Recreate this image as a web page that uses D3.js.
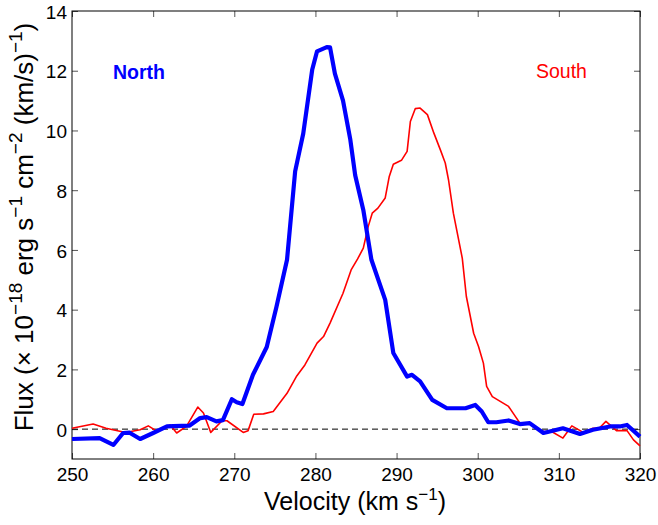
<!DOCTYPE html>
<html>
<head>
<meta charset="utf-8">
<style>
  body { margin: 0; background: #fff; }
  svg text { font-family: "Liberation Sans", Arial, sans-serif; fill: #000; }
</style>
</head>
<body>
<svg id="chart" width="658" height="525"></svg>
<script src="https://d3js.org/d3.v7.min.js"></script>
<script>
// North (thick blue) : velocity / flux
var northV = [250, 253.4, 255.1, 256.3, 257.1, 258.4, 260, 261.7, 262.5, 264.5, 265.8, 266.6, 267.8, 268.6,
  269.7, 270.3, 271, 272.3, 274, 275.2, 276.5, 277.5, 278.5, 279.6, 280.2, 281.4, 281.8, 282.4, 283.4,
  284.3, 284.9, 285.9, 286.9, 288.6, 289.6, 291.3, 291.9, 292.9, 294.4, 296.2, 298.5, 299.7, 300.5,
  301.3, 302.3, 303.8, 305.2, 306.4, 308.1, 310.5, 312.6, 314.2, 316.3, 317.5, 318.4, 320];
var northF = [-0.33, -0.3, -0.53, -0.13, -0.12, -0.33, -0.13, 0.09, 0.1, 0.12, 0.37, 0.4, 0.26, 0.3,
  1.0, 0.9, 0.84, 1.82, 2.75, 4.1, 5.67, 8.63, 9.9, 12.03, 12.65, 12.79, 12.78, 11.9, 11.0,
  9.69, 8.5, 7.34, 5.67, 4.33, 2.55, 1.76, 1.82, 1.6, 0.98, 0.7, 0.7, 0.81, 0.59,
  0.23, 0.23, 0.29, 0.17, 0.2, -0.13, 0.03, -0.16, -0.02, 0.09, 0.09, 0.14, -0.25];

// South (thin red)
var southV = [250, 252.6, 254.2, 256.6, 258.4, 259.4, 260.4, 262.1, 262.9, 264.1, 265.5, 266.2, 267.1,
  268.5, 269.1, 271.1, 271.7, 272.4, 273.6, 274.8, 276.5, 277.7, 278.7, 280.2, 281, 281.8, 283.4,
  284.4, 285.2, 285.9, 286.5, 287, 287.7, 288.6, 289.1, 289.6, 290.6, 291.3, 291.7, 292.3, 292.9,
  293.8, 294.6, 295.4, 296, 296.4, 297, 298.1, 298.6, 299.5, 300.1, 300.7, 301.1, 301.8, 303.8,
  305.2, 306.4, 307.9, 309.1, 310.5, 311.6, 313, 314.2, 315, 315.8, 317.1, 318.4, 319.2, 320];
var southF = [0.03, 0.17, 0.03, -0.11, -0.02, 0.11, -0.06, 0.14, -0.13, 0.09, 0.74, 0.54, -0.11,
  0.28, 0.28, -0.11, -0.05, 0.5, 0.51, 0.59, 1.2, 1.78, 2.15, 2.88, 3.1, 3.55, 4.55,
  5.33, 5.7, 6.06, 6.78, 7.23, 7.4, 7.74, 8.46, 8.87, 9.0, 9.3, 10.3, 10.73, 10.75,
  10.53, 9.91, 9.35, 8.91, 8.35, 7.23, 5.72, 4.44, 3.21, 2.77, 2.21, 1.43, 1.09, 0.76,
  0.2, 0.2, -0.08, -0.08, -0.3, 0.11, -0.11, 0.03, 0.04, 0.26, -0.05, -0.05, -0.36, -0.56];

var xTicks = [250, 260, 270, 280, 290, 300, 310, 320];
var yTicks = [0, 2, 4, 6, 8, 10, 12, 14];

var margin = {left: 72, right: 18, top: 11, bottom: 66};
var W = 658, H = 525;
var svg = d3.select("#chart");

var x = d3.scaleLinear().domain([250, 320]).range([margin.left, W - margin.right]);
var y = d3.scaleLinear().domain([-1, 14]).range([H - margin.bottom, margin.top]);

// axes, matlab-style box with inner ticks
function styleAxis(g) {
  g.select(".domain").remove();
  g.selectAll(".tick line").attr("stroke", "#555");
  g.selectAll(".tick text").attr("font-size", 19).attr("fill", "#000");
}
svg.append("g").attr("transform", "translate(0," + y(-1) + ")")
  .call(d3.axisBottom(x).tickValues(xTicks).tickSizeInner(-6).tickSizeOuter(0).tickPadding(9))
  .call(styleAxis);
svg.append("g").attr("transform", "translate(0," + y(14) + ")")
  .call(d3.axisTop(x).tickValues(xTicks).tickSizeInner(-6).tickSizeOuter(0).tickFormat(""))
  .call(styleAxis);
svg.append("g").attr("transform", "translate(" + x(250) + ",0)")
  .call(d3.axisLeft(y).tickValues(yTicks).tickSizeInner(-6).tickSizeOuter(0).tickPadding(5))
  .call(styleAxis)
  .selectAll(".tick text").attr("dy", "0.38em");
svg.append("g").attr("transform", "translate(" + x(320) + ",0)")
  .call(d3.axisRight(y).tickValues(yTicks).tickSizeInner(-6).tickSizeOuter(0).tickFormat(""))
  .call(styleAxis);

svg.append("rect")
  .attr("x", x(250)).attr("y", y(14))
  .attr("width", x(320) - x(250)).attr("height", y(-1) - y(14))
  .attr("fill", "none").attr("stroke", "#000").attr("stroke-width", 1);

// zero line
svg.append("line")
  .attr("x1", x(250)).attr("x2", x(320)).attr("y1", y(0)).attr("y2", y(0))
  .attr("stroke", "#000").attr("stroke-dasharray", "6,4").attr("stroke-width", 1);

var line = d3.line().x(d => x(d[0])).y(d => y(d[1]));

svg.append("path")
  .datum(southV.map((v, i) => [v, southF[i]]))
  .attr("d", line).attr("fill", "none").attr("stroke", "#ff0000").attr("stroke-width", 1.6)
  .attr("stroke-linejoin", "round");

svg.append("path")
  .datum(northV.map((v, i) => [v, northF[i]]))
  .attr("d", line).attr("fill", "none").attr("stroke", "#0000ff").attr("stroke-width", 4.2)
  .attr("stroke-linejoin", "round");

// labels
svg.append("text").attr("x", 113).attr("y", 79)
  .attr("font-size", 19.5).attr("font-weight", "bold").style("fill", "#0000ff").text("North");
svg.append("text").attr("x", 536).attr("y", 78)
  .attr("font-size", 19.5).style("fill", "#ff0000").text("South");

// x title
var xt = svg.append("text").attr("x", 355).attr("y", 510)
  .attr("text-anchor", "middle").attr("font-size", 25);
xt.append("tspan").text("Velocity (km s");
xt.append("tspan").attr("dy", -10).attr("font-size", 17).text("\u22121");
xt.append("tspan").attr("dy", 10).text(")");

// y title
var yt = svg.append("text")
  .attr("transform", "translate(33," + 227 + ") rotate(-90)")
  .attr("text-anchor", "middle").attr("font-size", 26);
yt.append("tspan").text("Flux (\u00d7 10");
yt.append("tspan").attr("dy", -11).attr("font-size", 19).text("\u221218");
yt.append("tspan").attr("dy", 11).text(" erg s");
yt.append("tspan").attr("dy", -11).attr("font-size", 19).text("\u22121");
yt.append("tspan").attr("dy", 11).text(" cm");
yt.append("tspan").attr("dy", -11).attr("font-size", 19).text("\u22122");
yt.append("tspan").attr("dy", 11).text(" (km/s)");
yt.append("tspan").attr("dy", -11).attr("font-size", 19).text("\u22121");
yt.append("tspan").attr("dy", 11).text(")");
</script>
</body>
</html>
